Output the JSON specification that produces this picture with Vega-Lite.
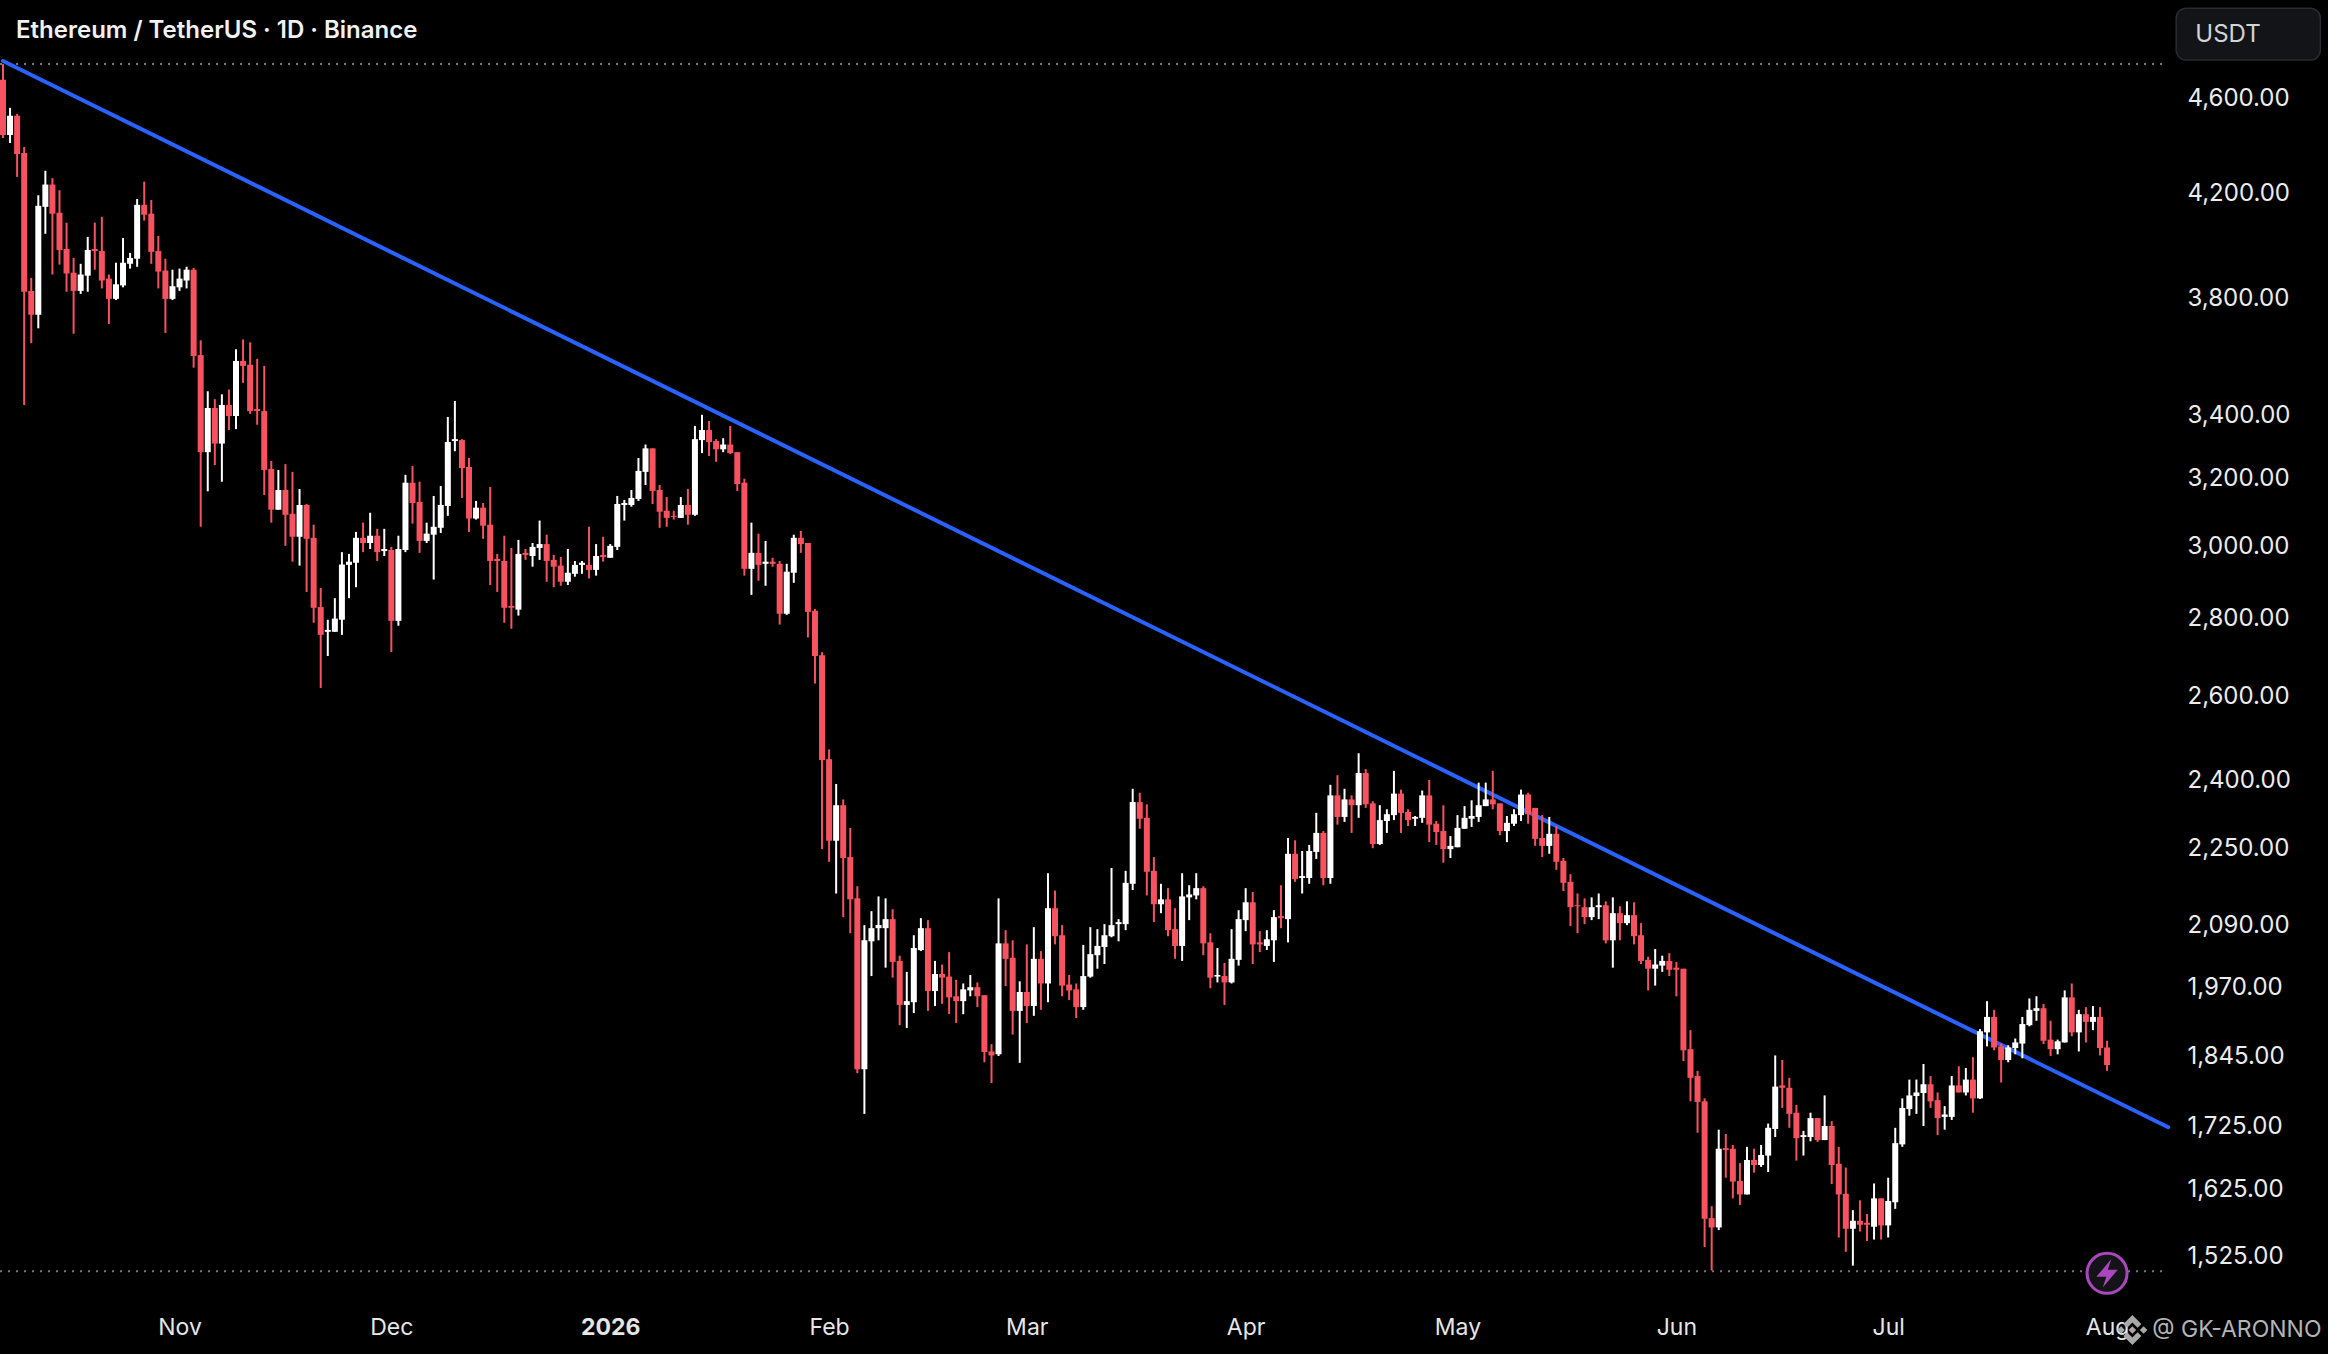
{"$schema":"https://vega.github.io/schema/vega-lite/v6.json","width":2328,"height":1354,"autosize":"none","padding":0,"background":"#000000",
"title":{"text":"Ethereum / TetherUS · 1D · Binance","anchor":"start","frame":"group","align":"left","baseline":"middle","offset":0,"dx":16,"dy":55,"font":"Inter","fontSize":24,"fontWeight":600,"color":"#f2f2f2"},
"config":{"view":{"stroke":null},"axis":{"grid":false,"domain":false,"ticks":false}},
"datasets":{"candles":[
{"d":"2025-10-07","o":4677,"h":4747,"l":4424,"c":4437,"dir":"d"},
{"d":"2025-10-08","o":4437,"h":4553,"l":4403,"c":4519,"dir":"u"},
{"d":"2025-10-09","o":4519,"h":4527,"l":4263,"c":4357,"dir":"d"},
{"d":"2025-10-10","o":4361,"h":4386,"l":3430,"c":3821,"dir":"d"},
{"d":"2025-10-11","o":3824,"h":3872,"l":3638,"c":3738,"dir":"d"},
{"d":"2025-10-12","o":3738,"h":4189,"l":3690,"c":4147,"dir":"u"},
{"d":"2025-10-13","o":4143,"h":4288,"l":4038,"c":4232,"dir":"u"},
{"d":"2025-10-14","o":4232,"h":4258,"l":3884,"c":4116,"dir":"d"},
{"d":"2025-10-15","o":4120,"h":4209,"l":3921,"c":3976,"dir":"d"},
{"d":"2025-10-16","o":3980,"h":4081,"l":3821,"c":3888,"dir":"d"},
{"d":"2025-10-17","o":3891,"h":3946,"l":3671,"c":3824,"dir":"d"},
{"d":"2025-10-18","o":3824,"h":3924,"l":3813,"c":3884,"dir":"u"},
{"d":"2025-10-19","o":3880,"h":4026,"l":3821,"c":3976,"dir":"u"},
{"d":"2025-10-20","o":3980,"h":4081,"l":3902,"c":3972,"dir":"d"},
{"d":"2025-10-21","o":3972,"h":4104,"l":3833,"c":3862,"dir":"d"},
{"d":"2025-10-22","o":3869,"h":3884,"l":3705,"c":3795,"dir":"d"},
{"d":"2025-10-23","o":3795,"h":3928,"l":3791,"c":3848,"dir":"u"},
{"d":"2025-10-24","o":3844,"h":4022,"l":3837,"c":3928,"dir":"u"},
{"d":"2025-10-25","o":3924,"h":3965,"l":3906,"c":3946,"dir":"u"},
{"d":"2025-10-26","o":3943,"h":4174,"l":3913,"c":4151,"dir":"u"},
{"d":"2025-10-27","o":4151,"h":4244,"l":4089,"c":4112,"dir":"d"},
{"d":"2025-10-28","o":4116,"h":4170,"l":3924,"c":3969,"dir":"d"},
{"d":"2025-10-29","o":3972,"h":4030,"l":3833,"c":3895,"dir":"d"},
{"d":"2025-10-30","o":3899,"h":3943,"l":3674,"c":3795,"dir":"d"},
{"d":"2025-10-31","o":3795,"h":3902,"l":3791,"c":3841,"dir":"u"},
{"d":"2025-11-01","o":3837,"h":3906,"l":3824,"c":3869,"dir":"u"},
{"d":"2025-11-02","o":3862,"h":3913,"l":3833,"c":3902,"dir":"u"},
{"d":"2025-11-03","o":3902,"h":3909,"l":3554,"c":3594,"dir":"d"},
{"d":"2025-11-04","o":3597,"h":3648,"l":3054,"c":3279,"dir":"d"},
{"d":"2025-11-05","o":3279,"h":3475,"l":3159,"c":3420,"dir":"u"},
{"d":"2025-11-06","o":3420,"h":3449,"l":3239,"c":3306,"dir":"d"},
{"d":"2025-11-07","o":3306,"h":3465,"l":3188,"c":3430,"dir":"u"},
{"d":"2025-11-08","o":3430,"h":3481,"l":3349,"c":3394,"dir":"d"},
{"d":"2025-11-09","o":3394,"h":3617,"l":3352,"c":3577,"dir":"u"},
{"d":"2025-11-10","o":3577,"h":3651,"l":3503,"c":3560,"dir":"d"},
{"d":"2025-11-11","o":3564,"h":3641,"l":3401,"c":3410,"dir":"d"},
{"d":"2025-11-12","o":3417,"h":3584,"l":3366,"c":3410,"dir":"d"},
{"d":"2025-11-13","o":3410,"h":3560,"l":3148,"c":3224,"dir":"d"},
{"d":"2025-11-14","o":3227,"h":3252,"l":3066,"c":3104,"dir":"d"},
{"d":"2025-11-15","o":3104,"h":3224,"l":3104,"c":3163,"dir":"u"},
{"d":"2025-11-16","o":3163,"h":3242,"l":2999,"c":3089,"dir":"d"},
{"d":"2025-11-17","o":3092,"h":3218,"l":2954,"c":3025,"dir":"d"},
{"d":"2025-11-18","o":3025,"h":3166,"l":2943,"c":3118,"dir":"u"},
{"d":"2025-11-19","o":3118,"h":3121,"l":2870,"c":3019,"dir":"d"},
{"d":"2025-11-20","o":3022,"h":3060,"l":2787,"c":2827,"dir":"d"},
{"d":"2025-11-21","o":2829,"h":2881,"l":2619,"c":2755,"dir":"d"},
{"d":"2025-11-22","o":2763,"h":2795,"l":2700,"c":2768,"dir":"u"},
{"d":"2025-11-23","o":2763,"h":2853,"l":2763,"c":2798,"dir":"u"},
{"d":"2025-11-24","o":2795,"h":2981,"l":2755,"c":2946,"dir":"u"},
{"d":"2025-11-25","o":2945,"h":2976,"l":2853,"c":2954,"dir":"u"},
{"d":"2025-11-26","o":2951,"h":3039,"l":2883,"c":3022,"dir":"u"},
{"d":"2025-11-27","o":3022,"h":3066,"l":2981,"c":3007,"dir":"d"},
{"d":"2025-11-28","o":3007,"h":3095,"l":2990,"c":3028,"dir":"u"},
{"d":"2025-11-29","o":3028,"h":3048,"l":2956,"c":2981,"dir":"d"},
{"d":"2025-11-30","o":2984,"h":3048,"l":2970,"c":2990,"dir":"u"},
{"d":"2025-12-01","o":2987,"h":2996,"l":2710,"c":2792,"dir":"d"},
{"d":"2025-12-02","o":2792,"h":3028,"l":2779,"c":2990,"dir":"u"},
{"d":"2025-12-03","o":2987,"h":3209,"l":2981,"c":3185,"dir":"u"},
{"d":"2025-12-04","o":3185,"h":3236,"l":3063,"c":3124,"dir":"d"},
{"d":"2025-12-05","o":3127,"h":3188,"l":2979,"c":3013,"dir":"d"},
{"d":"2025-12-06","o":3013,"h":3066,"l":3007,"c":3034,"dir":"u"},
{"d":"2025-12-07","o":3031,"h":3145,"l":2904,"c":3054,"dir":"u"},
{"d":"2025-12-08","o":3051,"h":3175,"l":3036,"c":3118,"dir":"u"},
{"d":"2025-12-09","o":3115,"h":3391,"l":3086,"c":3311,"dir":"u"},
{"d":"2025-12-10","o":3314,"h":3443,"l":3282,"c":3320,"dir":"u"},
{"d":"2025-12-11","o":3317,"h":3320,"l":3139,"c":3230,"dir":"d"},
{"d":"2025-12-12","o":3233,"h":3261,"l":3039,"c":3078,"dir":"d"},
{"d":"2025-12-13","o":3078,"h":3130,"l":3075,"c":3110,"dir":"u"},
{"d":"2025-12-14","o":3110,"h":3124,"l":3019,"c":3057,"dir":"d"},
{"d":"2025-12-15","o":3060,"h":3172,"l":2889,"c":2956,"dir":"d"},
{"d":"2025-12-16","o":2962,"h":2976,"l":2870,"c":2956,"dir":"d"},
{"d":"2025-12-17","o":2956,"h":3028,"l":2787,"c":2827,"dir":"d"},
{"d":"2025-12-18","o":2832,"h":2993,"l":2771,"c":2827,"dir":"d"},
{"d":"2025-12-19","o":2822,"h":3016,"l":2806,"c":2976,"dir":"u"},
{"d":"2025-12-20","o":2979,"h":2990,"l":2959,"c":2973,"dir":"d"},
{"d":"2025-12-21","o":2970,"h":3007,"l":2940,"c":2996,"dir":"u"},
{"d":"2025-12-22","o":2993,"h":3072,"l":2959,"c":3004,"dir":"u"},
{"d":"2025-12-23","o":3004,"h":3031,"l":2898,"c":2956,"dir":"d"},
{"d":"2025-12-24","o":2959,"h":2973,"l":2883,"c":2940,"dir":"d"},
{"d":"2025-12-25","o":2943,"h":2967,"l":2887,"c":2898,"dir":"d"},
{"d":"2025-12-26","o":2898,"h":2990,"l":2889,"c":2923,"dir":"u"},
{"d":"2025-12-27","o":2920,"h":2956,"l":2912,"c":2945,"dir":"u"},
{"d":"2025-12-28","o":2945,"h":2956,"l":2920,"c":2951,"dir":"u"},
{"d":"2025-12-29","o":2945,"h":3054,"l":2907,"c":2931,"dir":"d"},
{"d":"2025-12-30","o":2931,"h":3004,"l":2915,"c":2970,"dir":"u"},
{"d":"2025-12-31","o":2973,"h":3025,"l":2954,"c":2967,"dir":"d"},
{"d":"2026-01-01","o":2965,"h":3004,"l":2965,"c":2999,"dir":"u"},
{"d":"2026-01-02","o":2996,"h":3145,"l":2987,"c":3121,"dir":"u"},
{"d":"2026-01-03","o":3118,"h":3133,"l":3072,"c":3124,"dir":"u"},
{"d":"2026-01-04","o":3118,"h":3163,"l":3113,"c":3139,"dir":"u"},
{"d":"2026-01-05","o":3136,"h":3261,"l":3130,"c":3221,"dir":"u"},
{"d":"2026-01-06","o":3218,"h":3303,"l":3178,"c":3291,"dir":"u"},
{"d":"2026-01-07","o":3291,"h":3291,"l":3121,"c":3160,"dir":"d"},
{"d":"2026-01-08","o":3163,"h":3178,"l":3051,"c":3098,"dir":"d"},
{"d":"2026-01-09","o":3101,"h":3142,"l":3054,"c":3080,"dir":"d"},
{"d":"2026-01-10","o":3086,"h":3101,"l":3075,"c":3083,"dir":"d"},
{"d":"2026-01-11","o":3080,"h":3142,"l":3080,"c":3118,"dir":"u"},
{"d":"2026-01-12","o":3118,"h":3166,"l":3060,"c":3089,"dir":"d"},
{"d":"2026-01-13","o":3089,"h":3362,"l":3086,"c":3320,"dir":"u"},
{"d":"2026-01-14","o":3317,"h":3398,"l":3276,"c":3349,"dir":"u"},
{"d":"2026-01-15","o":3349,"h":3378,"l":3267,"c":3311,"dir":"d"},
{"d":"2026-01-16","o":3314,"h":3320,"l":3249,"c":3288,"dir":"d"},
{"d":"2026-01-17","o":3288,"h":3323,"l":3279,"c":3303,"dir":"u"},
{"d":"2026-01-18","o":3303,"h":3362,"l":3273,"c":3276,"dir":"d"},
{"d":"2026-01-19","o":3279,"h":3279,"l":3160,"c":3181,"dir":"d"},
{"d":"2026-01-20","o":3185,"h":3197,"l":2915,"c":2934,"dir":"d"},
{"d":"2026-01-21","o":2934,"h":3066,"l":2862,"c":2979,"dir":"u"},
{"d":"2026-01-22","o":2979,"h":3034,"l":2901,"c":2945,"dir":"d"},
{"d":"2026-01-23","o":2948,"h":3013,"l":2887,"c":2954,"dir":"u"},
{"d":"2026-01-24","o":2954,"h":2965,"l":2940,"c":2948,"dir":"d"},
{"d":"2026-01-25","o":2948,"h":2956,"l":2782,"c":2811,"dir":"d"},
{"d":"2026-01-26","o":2811,"h":2948,"l":2808,"c":2926,"dir":"u"},
{"d":"2026-01-27","o":2923,"h":3031,"l":2895,"c":3022,"dir":"u"},
{"d":"2026-01-28","o":3022,"h":3042,"l":2979,"c":3004,"dir":"d"},
{"d":"2026-01-29","o":3007,"h":3007,"l":2748,"c":2816,"dir":"d"},
{"d":"2026-01-30","o":2819,"h":2824,"l":2630,"c":2700,"dir":"d"},
{"d":"2026-01-31","o":2702,"h":2710,"l":2246,"c":2445,"dir":"d"},
{"d":"2026-02-01","o":2447,"h":2470,"l":2219,"c":2264,"dir":"d"},
{"d":"2026-02-02","o":2264,"h":2390,"l":2153,"c":2342,"dir":"u"},
{"d":"2026-02-03","o":2342,"h":2355,"l":2105,"c":2227,"dir":"d"},
{"d":"2026-02-04","o":2229,"h":2292,"l":2073,"c":2141,"dir":"d"},
{"d":"2026-02-05","o":2143,"h":2168,"l":1814,"c":1821,"dir":"d"},
{"d":"2026-02-06","o":1821,"h":2089,"l":1745,"c":2059,"dir":"u"},
{"d":"2026-02-07","o":2057,"h":2117,"l":1990,"c":2083,"dir":"u"},
{"d":"2026-02-08","o":2083,"h":2147,"l":2059,"c":2089,"dir":"u"},
{"d":"2026-02-09","o":2083,"h":2143,"l":2006,"c":2101,"dir":"u"},
{"d":"2026-02-10","o":2101,"h":2121,"l":1987,"c":2017,"dir":"d"},
{"d":"2026-02-11","o":2019,"h":2029,"l":1899,"c":1936,"dir":"d"},
{"d":"2026-02-12","o":1936,"h":1998,"l":1894,"c":1943,"dir":"u"},
{"d":"2026-02-13","o":1941,"h":2069,"l":1921,"c":2044,"dir":"u"},
{"d":"2026-02-14","o":2040,"h":2103,"l":2038,"c":2083,"dir":"u"},
{"d":"2026-02-15","o":2083,"h":2099,"l":1925,"c":1962,"dir":"d"},
{"d":"2026-02-16","o":1962,"h":2019,"l":1934,"c":1994,"dir":"u"},
{"d":"2026-02-17","o":1994,"h":2012,"l":1938,"c":1987,"dir":"d"},
{"d":"2026-02-18","o":1989,"h":2036,"l":1919,"c":1950,"dir":"d"},
{"d":"2026-02-19","o":1952,"h":1983,"l":1903,"c":1943,"dir":"d"},
{"d":"2026-02-20","o":1943,"h":1976,"l":1919,"c":1965,"dir":"u"},
{"d":"2026-02-21","o":1963,"h":1992,"l":1952,"c":1969,"dir":"u"},
{"d":"2026-02-22","o":1969,"h":1978,"l":1932,"c":1952,"dir":"d"},
{"d":"2026-02-23","o":1954,"h":1954,"l":1833,"c":1851,"dir":"d"},
{"d":"2026-02-24","o":1852,"h":1865,"l":1797,"c":1845,"dir":"d"},
{"d":"2026-02-25","o":1847,"h":2143,"l":1844,"c":2053,"dir":"u"},
{"d":"2026-02-26","o":2053,"h":2079,"l":1971,"c":2023,"dir":"d"},
{"d":"2026-02-27","o":2025,"h":2059,"l":1882,"c":1925,"dir":"d"},
{"d":"2026-02-28","o":1925,"h":1980,"l":1832,"c":1960,"dir":"u"},
{"d":"2026-03-01","o":1960,"h":2051,"l":1903,"c":1934,"dir":"d"},
{"d":"2026-03-02","o":1934,"h":2085,"l":1916,"c":2023,"dir":"u"},
{"d":"2026-03-03","o":2023,"h":2038,"l":1927,"c":1976,"dir":"d"},
{"d":"2026-03-04","o":1976,"h":2195,"l":1941,"c":2123,"dir":"u"},
{"d":"2026-03-05","o":2123,"h":2159,"l":2051,"c":2067,"dir":"d"},
{"d":"2026-03-06","o":2069,"h":2089,"l":1952,"c":1972,"dir":"d"},
{"d":"2026-03-07","o":1974,"h":1992,"l":1945,"c":1963,"dir":"d"},
{"d":"2026-03-08","o":1965,"h":1976,"l":1912,"c":1932,"dir":"d"},
{"d":"2026-03-09","o":1932,"h":2050,"l":1927,"c":1990,"dir":"u"},
{"d":"2026-03-10","o":1989,"h":2085,"l":1987,"c":2032,"dir":"u"},
{"d":"2026-03-11","o":2030,"h":2081,"l":2004,"c":2048,"dir":"u"},
{"d":"2026-03-12","o":2046,"h":2091,"l":2013,"c":2069,"dir":"u"},
{"d":"2026-03-13","o":2067,"h":2206,"l":2065,"c":2089,"dir":"u"},
{"d":"2026-03-14","o":2091,"h":2101,"l":2057,"c":2095,"dir":"u"},
{"d":"2026-03-15","o":2091,"h":2200,"l":2079,"c":2175,"dir":"u"},
{"d":"2026-03-16","o":2173,"h":2379,"l":2160,"c":2349,"dir":"u"},
{"d":"2026-03-17","o":2349,"h":2370,"l":2290,"c":2312,"dir":"d"},
{"d":"2026-03-18","o":2314,"h":2344,"l":2149,"c":2198,"dir":"d"},
{"d":"2026-03-19","o":2200,"h":2229,"l":2095,"c":2131,"dir":"d"},
{"d":"2026-03-20","o":2131,"h":2173,"l":2113,"c":2141,"dir":"u"},
{"d":"2026-03-21","o":2141,"h":2164,"l":2067,"c":2079,"dir":"d"},
{"d":"2026-03-22","o":2081,"h":2123,"l":2023,"c":2048,"dir":"d"},
{"d":"2026-03-23","o":2048,"h":2195,"l":2019,"c":2147,"dir":"u"},
{"d":"2026-03-24","o":2145,"h":2170,"l":2099,"c":2151,"dir":"u"},
{"d":"2026-03-25","o":2149,"h":2195,"l":2141,"c":2164,"dir":"u"},
{"d":"2026-03-26","o":2164,"h":2168,"l":2030,"c":2053,"dir":"d"},
{"d":"2026-03-27","o":2055,"h":2073,"l":1967,"c":1987,"dir":"d"},
{"d":"2026-03-28","o":1989,"h":2044,"l":1978,"c":1992,"dir":"u"},
{"d":"2026-03-29","o":1990,"h":2015,"l":1936,"c":1978,"dir":"d"},
{"d":"2026-03-30","o":1978,"h":2081,"l":1976,"c":2023,"dir":"u"},
{"d":"2026-03-31","o":2021,"h":2119,"l":2010,"c":2101,"dir":"u"},
{"d":"2026-04-01","o":2099,"h":2164,"l":2077,"c":2135,"dir":"u"},
{"d":"2026-04-02","o":2135,"h":2156,"l":2013,"c":2051,"dir":"d"},
{"d":"2026-04-03","o":2055,"h":2077,"l":2036,"c":2051,"dir":"d"},
{"d":"2026-04-04","o":2048,"h":2079,"l":2040,"c":2061,"dir":"u"},
{"d":"2026-04-05","o":2059,"h":2119,"l":2017,"c":2105,"dir":"u"},
{"d":"2026-04-06","o":2107,"h":2170,"l":2083,"c":2103,"dir":"d"},
{"d":"2026-04-07","o":2101,"h":2270,"l":2055,"c":2236,"dir":"u"},
{"d":"2026-04-08","o":2236,"h":2265,"l":2177,"c":2183,"dir":"d"},
{"d":"2026-04-09","o":2185,"h":2242,"l":2153,"c":2189,"dir":"u"},
{"d":"2026-04-10","o":2185,"h":2255,"l":2173,"c":2242,"dir":"u"},
{"d":"2026-04-11","o":2240,"h":2325,"l":2225,"c":2281,"dir":"u"},
{"d":"2026-04-12","o":2281,"h":2285,"l":2170,"c":2185,"dir":"d"},
{"d":"2026-04-13","o":2185,"h":2388,"l":2173,"c":2364,"dir":"u"},
{"d":"2026-04-14","o":2364,"h":2410,"l":2299,"c":2316,"dir":"d"},
{"d":"2026-04-15","o":2316,"h":2379,"l":2305,"c":2355,"dir":"u"},
{"d":"2026-04-16","o":2355,"h":2364,"l":2281,"c":2342,"dir":"d"},
{"d":"2026-04-17","o":2342,"h":2461,"l":2314,"c":2415,"dir":"u"},
{"d":"2026-04-18","o":2415,"h":2424,"l":2336,"c":2344,"dir":"d"},
{"d":"2026-04-19","o":2346,"h":2351,"l":2248,"c":2257,"dir":"d"},
{"d":"2026-04-20","o":2257,"h":2342,"l":2255,"c":2309,"dir":"u"},
{"d":"2026-04-21","o":2307,"h":2333,"l":2281,"c":2322,"dir":"u"},
{"d":"2026-04-22","o":2320,"h":2420,"l":2309,"c":2368,"dir":"u"},
{"d":"2026-04-23","o":2368,"h":2377,"l":2281,"c":2325,"dir":"d"},
{"d":"2026-04-24","o":2327,"h":2333,"l":2296,"c":2309,"dir":"d"},
{"d":"2026-04-25","o":2312,"h":2318,"l":2296,"c":2316,"dir":"u"},
{"d":"2026-04-26","o":2314,"h":2375,"l":2303,"c":2364,"dir":"u"},
{"d":"2026-04-27","o":2364,"h":2399,"l":2261,"c":2299,"dir":"d"},
{"d":"2026-04-28","o":2301,"h":2307,"l":2255,"c":2283,"dir":"d"},
{"d":"2026-04-29","o":2285,"h":2342,"l":2217,"c":2246,"dir":"d"},
{"d":"2026-04-30","o":2246,"h":2274,"l":2227,"c":2253,"dir":"u"},
{"d":"2026-05-01","o":2250,"h":2320,"l":2250,"c":2292,"dir":"u"},
{"d":"2026-05-02","o":2290,"h":2340,"l":2290,"c":2314,"dir":"u"},
{"d":"2026-05-03","o":2312,"h":2353,"l":2294,"c":2318,"dir":"u"},
{"d":"2026-05-04","o":2316,"h":2393,"l":2305,"c":2342,"dir":"u"},
{"d":"2026-05-05","o":2340,"h":2393,"l":2340,"c":2355,"dir":"u"},
{"d":"2026-05-06","o":2355,"h":2420,"l":2333,"c":2344,"dir":"d"},
{"d":"2026-05-07","o":2346,"h":2346,"l":2276,"c":2285,"dir":"d"},
{"d":"2026-05-08","o":2285,"h":2318,"l":2261,"c":2303,"dir":"u"},
{"d":"2026-05-09","o":2301,"h":2333,"l":2296,"c":2322,"dir":"u"},
{"d":"2026-05-10","o":2320,"h":2377,"l":2307,"c":2366,"dir":"u"},
{"d":"2026-05-11","o":2366,"h":2370,"l":2301,"c":2322,"dir":"d"},
{"d":"2026-05-12","o":2336,"h":2336,"l":2253,"c":2268,"dir":"d"},
{"d":"2026-05-13","o":2270,"h":2320,"l":2229,"c":2253,"dir":"d"},
{"d":"2026-05-14","o":2253,"h":2316,"l":2236,"c":2279,"dir":"u"},
{"d":"2026-05-15","o":2279,"h":2296,"l":2202,"c":2219,"dir":"d"},
{"d":"2026-05-16","o":2221,"h":2227,"l":2158,"c":2175,"dir":"d"},
{"d":"2026-05-17","o":2177,"h":2193,"l":2087,"c":2125,"dir":"d"},
{"d":"2026-05-18","o":2129,"h":2153,"l":2073,"c":2127,"dir":"d"},
{"d":"2026-05-19","o":2125,"h":2143,"l":2091,"c":2105,"dir":"d"},
{"d":"2026-05-20","o":2105,"h":2145,"l":2099,"c":2125,"dir":"u"},
{"d":"2026-05-21","o":2125,"h":2153,"l":2101,"c":2129,"dir":"u"},
{"d":"2026-05-22","o":2129,"h":2137,"l":2053,"c":2059,"dir":"d"},
{"d":"2026-05-23","o":2059,"h":2145,"l":2006,"c":2113,"dir":"u"},
{"d":"2026-05-24","o":2113,"h":2127,"l":2059,"c":2093,"dir":"d"},
{"d":"2026-05-25","o":2093,"h":2137,"l":2089,"c":2109,"dir":"u"},
{"d":"2026-05-26","o":2109,"h":2135,"l":2051,"c":2067,"dir":"d"},
{"d":"2026-05-27","o":2069,"h":2093,"l":2013,"c":2019,"dir":"d"},
{"d":"2026-05-28","o":2021,"h":2027,"l":1963,"c":2004,"dir":"d"},
{"d":"2026-05-29","o":2004,"h":2042,"l":1972,"c":2012,"dir":"u"},
{"d":"2026-05-30","o":2010,"h":2029,"l":1998,"c":2019,"dir":"u"},
{"d":"2026-05-31","o":2019,"h":2034,"l":1990,"c":2002,"dir":"d"},
{"d":"2026-06-01","o":2006,"h":2017,"l":1952,"c":2002,"dir":"d"},
{"d":"2026-06-02","o":2004,"h":2004,"l":1835,"c":1854,"dir":"d"},
{"d":"2026-06-03","o":1856,"h":1890,"l":1766,"c":1806,"dir":"d"},
{"d":"2026-06-04","o":1809,"h":1818,"l":1714,"c":1765,"dir":"d"},
{"d":"2026-06-05","o":1766,"h":1771,"l":1537,"c":1579,"dir":"d"},
{"d":"2026-06-06","o":1580,"h":1598,"l":1503,"c":1566,"dir":"d"},
{"d":"2026-06-07","o":1566,"h":1719,"l":1562,"c":1688,"dir":"u"},
{"d":"2026-06-08","o":1689,"h":1712,"l":1642,"c":1686,"dir":"d"},
{"d":"2026-06-09","o":1688,"h":1694,"l":1610,"c":1636,"dir":"d"},
{"d":"2026-06-10","o":1637,"h":1665,"l":1600,"c":1616,"dir":"d"},
{"d":"2026-06-11","o":1616,"h":1691,"l":1616,"c":1670,"dir":"u"},
{"d":"2026-06-12","o":1670,"h":1688,"l":1650,"c":1662,"dir":"d"},
{"d":"2026-06-13","o":1662,"h":1694,"l":1659,"c":1678,"dir":"u"},
{"d":"2026-06-14","o":1677,"h":1729,"l":1651,"c":1722,"dir":"u"},
{"d":"2026-06-15","o":1720,"h":1845,"l":1707,"c":1791,"dir":"u"},
{"d":"2026-06-16","o":1793,"h":1837,"l":1755,"c":1789,"dir":"d"},
{"d":"2026-06-17","o":1789,"h":1806,"l":1722,"c":1745,"dir":"d"},
{"d":"2026-06-18","o":1747,"h":1760,"l":1669,"c":1705,"dir":"d"},
{"d":"2026-06-19","o":1707,"h":1717,"l":1677,"c":1710,"dir":"u"},
{"d":"2026-06-20","o":1707,"h":1747,"l":1700,"c":1738,"dir":"u"},
{"d":"2026-06-21","o":1738,"h":1738,"l":1699,"c":1702,"dir":"d"},
{"d":"2026-06-22","o":1702,"h":1776,"l":1702,"c":1725,"dir":"u"},
{"d":"2026-06-23","o":1725,"h":1733,"l":1632,"c":1662,"dir":"d"},
{"d":"2026-06-24","o":1664,"h":1691,"l":1551,"c":1616,"dir":"d"},
{"d":"2026-06-25","o":1617,"h":1658,"l":1530,"c":1564,"dir":"d"},
{"d":"2026-06-26","o":1564,"h":1592,"l":1510,"c":1576,"dir":"u"},
{"d":"2026-06-27","o":1576,"h":1607,"l":1560,"c":1570,"dir":"d"},
{"d":"2026-06-28","o":1573,"h":1586,"l":1546,"c":1570,"dir":"d"},
{"d":"2026-06-29","o":1567,"h":1633,"l":1548,"c":1610,"dir":"u"},
{"d":"2026-06-30","o":1610,"h":1610,"l":1548,"c":1569,"dir":"d"},
{"d":"2026-07-01","o":1569,"h":1642,"l":1551,"c":1606,"dir":"u"},
{"d":"2026-07-02","o":1604,"h":1722,"l":1594,"c":1697,"dir":"u"},
{"d":"2026-07-03","o":1695,"h":1771,"l":1691,"c":1755,"dir":"u"},
{"d":"2026-07-04","o":1753,"h":1803,"l":1742,"c":1776,"dir":"u"},
{"d":"2026-07-05","o":1775,"h":1803,"l":1745,"c":1781,"dir":"u"},
{"d":"2026-07-06","o":1780,"h":1830,"l":1725,"c":1795,"dir":"u"},
{"d":"2026-07-07","o":1795,"h":1809,"l":1755,"c":1766,"dir":"d"},
{"d":"2026-07-08","o":1768,"h":1781,"l":1710,"c":1738,"dir":"d"},
{"d":"2026-07-09","o":1740,"h":1758,"l":1719,"c":1744,"dir":"u"},
{"d":"2026-07-10","o":1740,"h":1809,"l":1735,"c":1793,"dir":"u"},
{"d":"2026-07-11","o":1793,"h":1826,"l":1781,"c":1781,"dir":"d"},
{"d":"2026-07-12","o":1781,"h":1823,"l":1776,"c":1803,"dir":"u"},
{"d":"2026-07-13","o":1803,"h":1842,"l":1747,"c":1771,"dir":"d"},
{"d":"2026-07-14","o":1771,"h":1892,"l":1770,"c":1888,"dir":"u"},
{"d":"2026-07-15","o":1886,"h":1943,"l":1861,"c":1914,"dir":"u"},
{"d":"2026-07-16","o":1914,"h":1927,"l":1854,"c":1859,"dir":"d"},
{"d":"2026-07-17","o":1861,"h":1866,"l":1798,"c":1837,"dir":"d"},
{"d":"2026-07-18","o":1837,"h":1863,"l":1833,"c":1859,"dir":"u"},
{"d":"2026-07-19","o":1858,"h":1875,"l":1847,"c":1868,"dir":"u"},
{"d":"2026-07-20","o":1866,"h":1914,"l":1840,"c":1901,"dir":"u"},
{"d":"2026-07-21","o":1899,"h":1948,"l":1897,"c":1927,"dir":"u"},
{"d":"2026-07-22","o":1925,"h":1952,"l":1907,"c":1930,"dir":"u"},
{"d":"2026-07-23","o":1930,"h":1938,"l":1865,"c":1871,"dir":"d"},
{"d":"2026-07-24","o":1873,"h":1907,"l":1844,"c":1856,"dir":"d"},
{"d":"2026-07-25","o":1856,"h":1873,"l":1847,"c":1870,"dir":"u"},
{"d":"2026-07-26","o":1868,"h":1963,"l":1868,"c":1950,"dir":"u"},
{"d":"2026-07-27","o":1950,"h":1976,"l":1879,"c":1886,"dir":"d"},
{"d":"2026-07-28","o":1886,"h":1927,"l":1852,"c":1919,"dir":"u"},
{"d":"2026-07-29","o":1919,"h":1932,"l":1868,"c":1905,"dir":"d"},
{"d":"2026-07-30","o":1905,"h":1934,"l":1890,"c":1914,"dir":"u"},
{"d":"2026-07-31","o":1914,"h":1932,"l":1845,"c":1858,"dir":"d"},
{"d":"2026-08-01","o":1859,"h":1871,"l":1818,"c":1828,"dir":"d"}
]},
"layer":[
{"data":{"values":[{"name":"high","p":4747,"a":"2025-10-06T14:00:00Z","b":"2026-08-08T19:00:00Z"},{"name":"low","p":1502,"a":"2025-10-06T14:00:00Z","b":"2026-08-08T19:00:00Z"}]},
"mark":{"type":"rule","stroke":"#7a7a7a","strokeWidth":2,"strokeDash":[2,6]},
"encoding":{"x":{"field":"a","type":"temporal","scale":{"type":"utc","domain":["2025-10-06T13:48:00Z","2026-09-01T07:00:00Z"],"nice":false,"padding":0},
"axis":{"title":null,"orient":"bottom","offset":-27,"labelPadding":0,"labelFont":"Inter","labelFontSize":23,"labelColor":"#e6e6e6","labelFlush":false,"labelOverlap":false,"labelBaseline":"middle","labelAlign":"center","labelFontWeight":{"condition":{"test":"utcmonth(datum.value)==0","value":700},"value":400},"labelExpr":"utcmonth(datum.value)==0 ? '2026' : utcFormat(datum.value,'%b')",
"values":[{"year":2025,"month":11,"date":1,"utc":true},{"year":2025,"month":12,"date":1,"utc":true},{"year":2026,"month":1,"date":1,"utc":true},{"year":2026,"month":2,"date":1,"utc":true},{"year":2026,"month":3,"date":1,"utc":true},{"year":2026,"month":4,"date":1,"utc":true},{"year":2026,"month":5,"date":1,"utc":true},{"year":2026,"month":6,"date":1,"utc":true},{"year":2026,"month":7,"date":1,"utc":true},{"year":2026,"month":8,"date":1,"utc":true}]}},
"x2":{"field":"b"},
"y":{"field":"p","type":"quantitative","scale":{"type":"log","domain":[1388,5046],"nice":false,"zero":false},
"axis":{"title":null,"orient":"right","offset":-141,"labelPadding":0,"labelOffset":1,"labelFont":"Inter","labelFontSize":24,"labelColor":"#ececec","labelAlign":"left","labelBaseline":"middle","labelOverlap":false,"format":",.2f","values":[1525,1625,1725,1845,1970,2090,2250,2400,2600,2800,3000,3200,3400,3800,4200,4600]}}}},
{"data":{"values":[{"name":"trend","d":"2025-10-07","p":4761},{"name":"trend","d":"2026-08-09T16:00:00Z","p":1723}]},
"mark":{"type":"line","stroke":"#2962FF","strokeWidth":4,"strokeCap":"round"},
"encoding":{"x":{"field":"d","type":"temporal","scale":{"type":"utc"}},"y":{"field":"p","type":"quantitative","scale":{"type":"log"}}}},
{"data":{"name":"candles"},"mark":{"type":"rule","strokeWidth":2},
"encoding":{"x":{"field":"d","type":"temporal","scale":{"type":"utc"}},"y":{"field":"l","type":"quantitative","scale":{"type":"log"}},"y2":{"field":"h"},
"color":{"field":"dir","type":"nominal","legend":null,"scale":{"domain":["u","d"],"range":["#ffffff","#F7525F"]}}}},
{"data":{"name":"candles"},"mark":{"type":"bar","size":6},
"encoding":{"x":{"field":"d","type":"temporal","scale":{"type":"utc"}},"y":{"field":"o","type":"quantitative","scale":{"type":"log"}},"y2":{"field":"c"},
"color":{"field":"dir","type":"nominal","legend":null,"scale":{"domain":["u","d"],"range":["#ffffff","#F7525F"]}}}},
{"data":{"values":[{"name":"currency","a":"2026-08-10T19:00:00Z","b":"2026-08-31T05:00:00Z","p1":5007,"p2":4765}]},
"mark":{"type":"rect","fill":"#131418","stroke":"#2a2b30","strokeWidth":1.5,"cornerRadius":10},
"encoding":{"x":{"field":"a","type":"temporal","scale":{"type":"utc"}},"x2":{"field":"b"},"y":{"field":"p1","type":"quantitative","scale":{"type":"log"}},"y2":{"field":"p2"}}},
{"data":{"values":[{"t":"USDT","d":"2026-08-13T12:00:00Z","p":4880}]},
"mark":{"type":"text","align":"left","baseline":"middle","font":"Inter","fontSize":24,"fill":"#d4d4d4"},
"encoding":{"x":{"field":"d","type":"temporal","scale":{"type":"utc"}},"y":{"field":"p","type":"quantitative","scale":{"type":"log"}},"text":{"field":"t"}}},
{"data":{"values":[{"name":"alert","d":"2026-08-01T00:00:00Z","p":1499}]},
"mark":{"type":"point","shape":"circle","size":1600,"filled":true,"fill":"#131318","stroke":"#AB47BC","strokeWidth":3,"opacity":1},
"encoding":{"x":{"field":"d","type":"temporal","scale":{"type":"utc"}},"y":{"field":"p","type":"quantitative","scale":{"type":"log"}}}},
{"data":{"values":[{"name":"bolt","d":"2026-08-01T00:00:00Z","p":1499}]},
"mark":{"type":"point","shape":"M0.3,-1 L-0.75,0.25 L-0.05,0.25 L-0.3,1 L0.75,-0.25 L0.05,-0.25 Z","size":820,"filled":true,"fill":"#AB47BC","opacity":1},
"encoding":{"x":{"field":"d","type":"temporal","scale":{"type":"utc"}},"y":{"field":"p","type":"quantitative","scale":{"type":"log"}}}},
{"data":{"values":[{"name":"exchange","d":"2026-08-04T14:00:00Z","p":1420}]},
"mark":{"type":"point","shape":"M0,-1 L0.6,-0.4 L0.35,-0.15 L0,-0.5 L-0.35,-0.15 L-0.6,-0.4 Z M0,1 L0.6,0.4 L0.35,0.15 L0,0.5 L-0.35,0.15 L-0.6,0.4 Z M0,-0.25 L0.25,0 L0,0.25 L-0.25,0 Z M-0.75,-0.25 L-0.5,0 L-0.75,0.25 L-1,0 Z M0.75,-0.25 L1,0 L0.75,0.25 L0.5,0 Z","size":900,"filled":true,"fill":"#a8a8a8","opacity":1},
"encoding":{"x":{"field":"d","type":"temporal","scale":{"type":"utc"}},"y":{"field":"p","type":"quantitative","scale":{"type":"log"}}}},
{"data":{"values":[{"t":"@ GK-ARONNO","d":"2026-08-07T10:00:00Z","p":1420}]},
"mark":{"type":"text","align":"left","baseline":"middle","font":"Inter","fontSize":23,"fill":"#b4b4b4"},
"encoding":{"x":{"field":"d","type":"temporal","scale":{"type":"utc"}},"y":{"field":"p","type":"quantitative","scale":{"type":"log"}},"text":{"field":"t"}}}
]}
